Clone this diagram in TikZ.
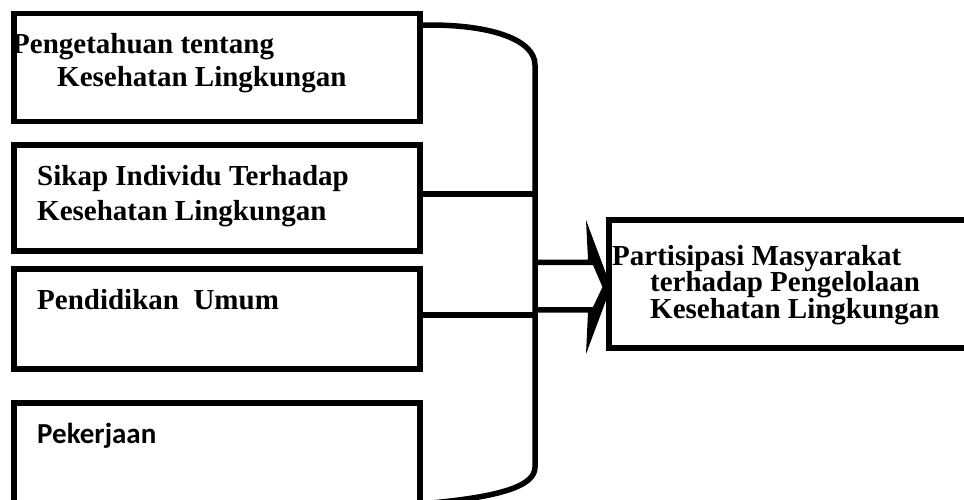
\documentclass[tikz,border=0pt]{standalone}
\usepackage{fontspec}
\setmainfont{Liberation Serif}
\newfontfamily\calibri{Carlito}
\tikzset{
  box/.style={draw, line width=5.5pt, rectangle, inner sep=0pt, outer sep=0pt, minimum width=#1},
  box/.default=406pt,
  lbl/.style={anchor=base west, inner sep=0pt, font=\fontsize{29}{34}\selectfont\bfseries},
  lblsans/.style={anchor=base west, inner sep=0pt, font=\fontsize{29}{34}\selectfont\calibri\bfseries},
  conn/.style={line width=5.5pt}
}
\begin{document}
\begin{tikzpicture}[x=1pt,y=-1pt]
\useasboundingbox (0,0) rectangle (964,499);
\clip (0,0) rectangle (964,499);
% boxes
\node[box, minimum height=108pt] (b1) at (217,67.5) {};
\node[box, minimum height=106pt] (b2) at (217,198) {};
\node[box, minimum height=100pt] (b3) at (217,319) {};
\node[box, minimum height=102pt] (b4) at (217,454) {};
\node[box=361pt, minimum height=128pt] (r) at (789.5,284) {};
% texts
\node[lbl] (t1a) at (12,53) {Pengetahuan tentang};
\node[lbl] (t1b) at (57,86) {Kesehatan Lingkungan};
\node[lbl] (t2a) at (37,185) {Sikap Individu Terhadap};
\node[lbl] (t2b) at (37,220) {Kesehatan Lingkungan};
\node[lbl] (t3a) at (37,309) {Pendidikan\ \ Umum};
\node[lblsans] (t4a) at (37,443) {Pekerjaan};
\node[lbl] (tra) at (612,265) {Partisipasi Masyarakat};
\node[lbl] (trb) at (650,291) {terhadap Pengelolaan};
\node[lbl] (trc) at (650,318) {Kesehatan Lingkungan};
% bus
\coordinate (bustop) at (535,65);
\coordinate (busbot) at (535,467);
\draw[conn] ([yshift=42.5pt]b1.east) -- (430,25) .. controls (492,25) and (535,40) .. (bustop)
  -- (busbot) .. controls (535,485) and (505,497) .. ([yshift=-50pt]b4.east);
\draw[conn] ([yshift=4pt]b2.east) -- ([yshift=4pt]b2.east -| bustop);
\draw[conn] ([yshift=4pt]b3.east) -- ([yshift=4pt]b3.east -| bustop);
% block arrow
\fill[even odd rule]
  (535,259.5) -- (588,259.5) -- (586,220) -- (611,287) -- (586,354) -- (588,312.5) -- (535,312.5) -- cycle
  (535,265) -- (593,265) -- (602.5,287) -- (593,307) -- (535,307) -- cycle;
\end{tikzpicture}
\end{document}
